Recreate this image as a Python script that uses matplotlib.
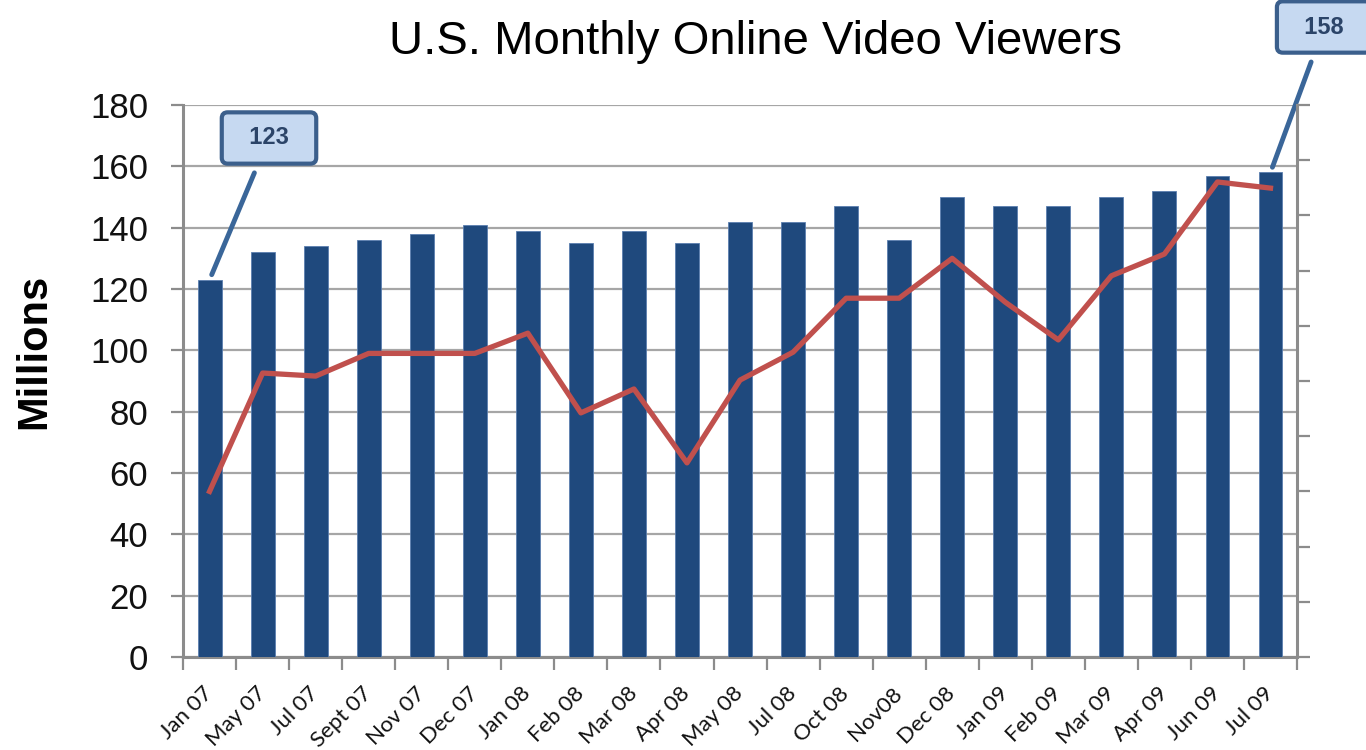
#!/usr/bin/env python3

from matplotlib import pyplot as plt
import numpy as np

# Data
months = ['Jan 07', 'May 07', 'Jul 07', 'Sept 07', 'Nov 07', 'Dec 07', 'Jan 08',
          'Feb 08', 'Mar 08', 'Apr 08', 'May 08', 'Jul 08', 'Oct 08', 'Nov08',
          'Dec 08', 'Jan 09', 'Feb 09', 'Mar 09', 'Apr 09', 'Jun 09', 'Jul 09']
viewers = [123, 132, 134, 136, 138, 141, 139, 135, 139, 135, 142, 142, 147, 136,
           150, 147, 147, 150, 152, 157, 158]
trend = [54, 92.6, 91.6, 99, 99, 99, 105.6, 79.6, 87.4, 63.3, 90.3, 99.4, 117, 117,
         130, 115.7, 103.4, 124.3, 131.4, 154.9, 152.9]
callouts = [(0, '123'), (20, '158')]

BAR_COLOR = '#1F497D'
LINE_COLOR = '#C0504D'
GRID_GRAY = '#A6A6A6'
AXIS_GRAY = '#8C8C8C'
SANS = ['Liberation Sans', 'DejaVu Sans']


def plot_viewers():
    '''Bar chart of monthly viewers with trend line and two callouts'''
    fig = plt.figure(figsize=(13.66, 7.5), dpi=100)
    ax = fig.add_axes([0.134, 0.124, 0.8155, 0.736])
    x = np.arange(len(months))

    ax.bar(x, viewers, width=0.45, color=BAR_COLOR, edgecolor='#5B7FAF',
           linewidth=0.6, zorder=3)
    ax.plot(x, trend, color=LINE_COLOR, linewidth=3.8, zorder=4)

    ax.set_xlim(-0.5, len(months) - 0.5)
    ax.set_ylim(0, 180)
    ax.set_yticks(np.arange(0, 181, 20))
    ax.yaxis.grid(True, color=GRID_GRAY, linewidth=1.6, zorder=0)
    ax.set_axisbelow(True)

    # category labels at bar centres, tick marks at category boundaries
    ax.set_xticks(x)
    ax.set_xticklabels(months, rotation=45, ha='right', va='center',
                       rotation_mode='anchor', fontsize=16,
                       family=['Lato', 'DejaVu Sans'], color='#111111')
    ax.tick_params(axis='x', which='major', length=0, pad=24)
    ax.set_xticks(np.arange(-0.5, len(months), 1.0), minor=True)
    ax.tick_params(axis='x', which='minor', length=9, width=1.6,
                   color=AXIS_GRAY, direction='out')

    ax.tick_params(axis='y', length=9, width=1.6, color=AXIS_GRAY,
                   labelsize=25, pad=16, labelcolor='#111111')
    for lbl in ax.get_yticklabels():
        lbl.set_family(SANS)

    for side in ['left', 'bottom']:
        ax.spines[side].set_color(AXIS_GRAY)
        ax.spines[side].set_linewidth(2.2)
    ax.spines['top'].set_visible(False)
    ax.spines['right'].set_visible(False)

    # right-hand axis: tick marks only, no labels
    ax2 = ax.twinx()
    ax2.set_ylim(0, 180)
    ax2.set_yticks(np.linspace(0, 180, 11))
    ax2.set_yticklabels([])
    ax2.tick_params(axis='y', length=9, width=1.6, color=AXIS_GRAY)
    ax2.spines['right'].set_color(AXIS_GRAY)
    ax2.spines['right'].set_linewidth(2.2)
    for side in ['left', 'top', 'bottom']:
        ax2.spines[side].set_visible(False)

    fig.text(0.025, 0.531, 'Millions', rotation=90, ha='center', va='center',
             fontsize=30, fontweight='bold', family=SANS)
    fig.text(0.553, 0.944, 'U.S. Monthly Online Video Viewers', ha='center',
             va='center', fontsize=34, family=SANS)

    # callout boxes
    box_pos = {0: (269, 612), 20: (1324, 723)}
    for idx, label in callouts:
        ax.annotate('  ' + label + '  ', xy=(idx, viewers[idx]), xycoords='data',
                    xytext=box_pos[idx], textcoords='figure pixels',
                    ha='center', va='center', fontsize=17, fontweight='bold',
                    color='#2B4468', family=SANS,
                    bbox=dict(boxstyle='round,pad=0.6,rounding_size=0.25',
                              facecolor='#C6D9F1', edgecolor='#3B5F8C',
                              linewidth=3),
                    arrowprops=dict(arrowstyle='-', color='#3A6699', lw=3.5,
                                    shrinkA=6, shrinkB=4),
                    zorder=6, annotation_clip=False)

    return fig


if __name__ == '__main__':
    fig = plot_viewers()
    plt.savefig('out.png', dpi=100)
